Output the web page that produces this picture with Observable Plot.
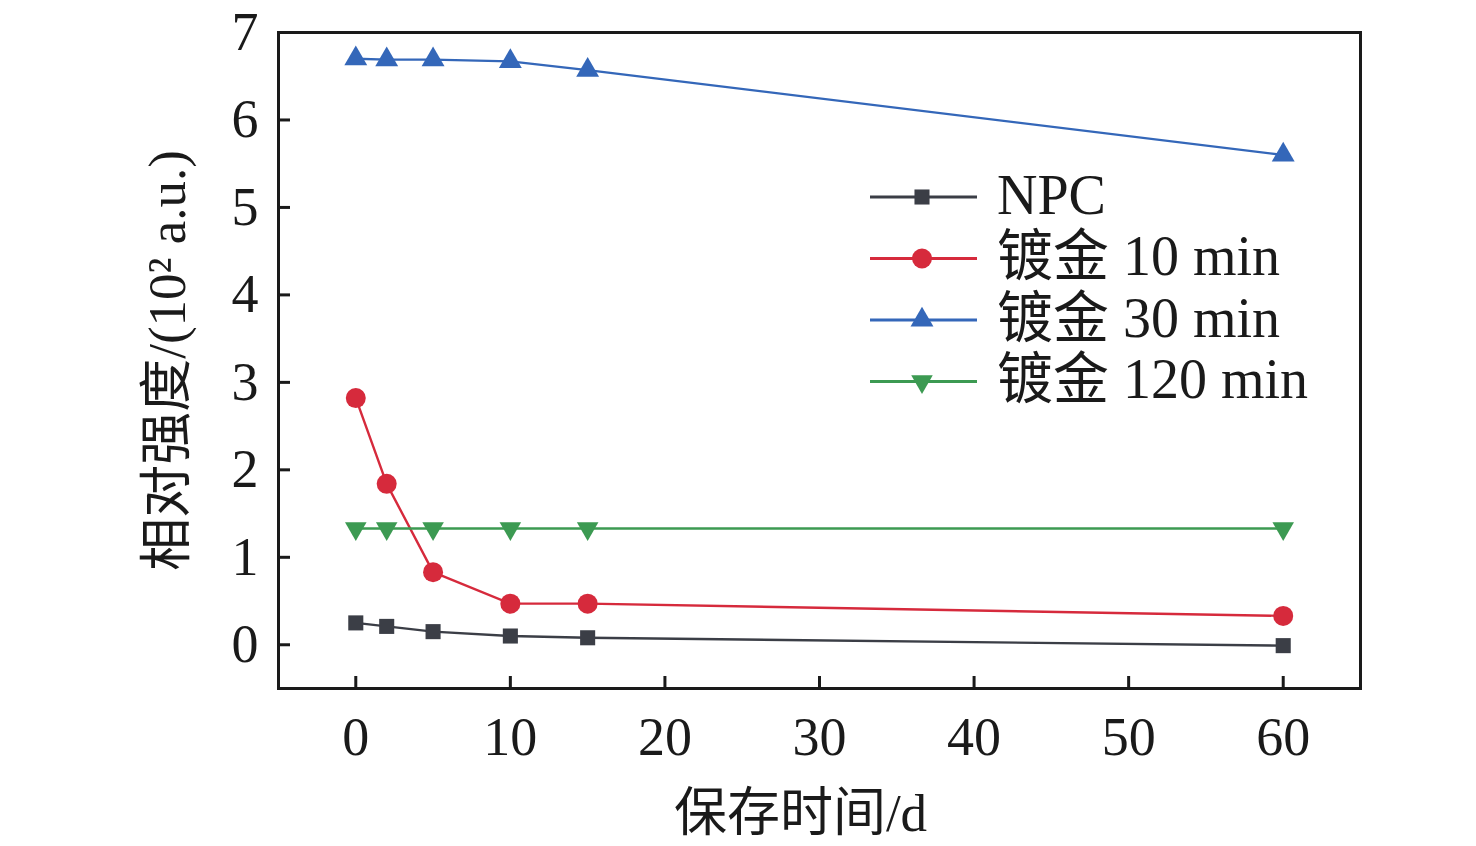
<!DOCTYPE html>
<html><head><meta charset="utf-8">
<script src="https://cdn.jsdelivr.net/npm/d3@7"></script>
<script src="https://cdn.jsdelivr.net/npm/@observablehq/plot@0.6"></script>
<style>
html,body{margin:0;padding:0;background:#fff;}
#wrap{position:relative;width:1476px;height:846px;}
#legend{position:absolute;left:0;top:0;}
</style></head>
<body><div id="wrap"></div>
<script>
const days = [0, 2, 5, 10, 15, 60];
const npc = [0.25, 0.21, 0.15, 0.10, 0.08, -0.01];
const gold10 = [2.82, 1.84, 0.83, 0.47, 0.47, 0.33];
const gold30 = [6.70, 6.69, 6.69, 6.67, 6.57, 5.60];
const gold120 = [1.33, 1.33, 1.33, 1.33, 1.33, 1.33];
const seriesNames = ["NPC", "镀金 10 min", "镀金 30 min", "镀金 120 min"];
const seriesColors = ["#3b3e46", "#d62a3c", "#3467b9", "#3c9a52"];
const seriesSymbols = ["square", "circle", "triangle", "triangle"];
const seriesRotate = [0, 0, 0, 180];
const seriesR = [8.5, 10, 8.5, 8];
const xTicks = [0, 10, 20, 30, 40, 50, 60];
const yTicks = [0, 1, 2, 3, 4, 5, 6, 7];

const allValues = [npc, gold10, gold30, gold120];
const rows = [];
allValues.forEach((vals, s) => vals.forEach((v, i) => rows.push({day: days[i], value: v, series: seriesNames[s], s})));

const font = "'Liberation Serif','Times New Roman','Noto Sans CJK SC',serif";
const marks = [Plot.frame({stroke: "#1a1a1a", strokeWidth: 3})];
seriesNames.forEach((name, s) => {
  const d = rows.filter(r => r.s === s);
  marks.push(Plot.line(d, {x: "day", y: "value", stroke: seriesColors[s], strokeWidth: 2.4}));
  marks.push(Plot.dot(d, {x: "day", y: "value", fill: seriesColors[s], stroke: "none", symbol: () => seriesSymbols[s], r: seriesR[s], rotate: seriesRotate[s]}));
});
marks.push(Plot.axisX({ticks: xTicks, tickSize: -12, tickPadding: 40, strokeWidth: 3, fontSize: 54, label: null}));
marks.push(Plot.axisY({ticks: yTicks, tickSize: -12, tickPadding: 32, strokeWidth: 3, fontSize: 54, label: null}));
marks.push(Plot.text(["保存时间/d"], {frameAnchor: "bottom", dy: 142, dx: -19, fontSize: 53, fill: "#1a1a1a", lineAnchor: "bottom", textAnchor: "middle"}));
marks.push(Plot.text(["相对强度/(10² a.u.)"], {frameAnchor: "left", dx: -110, dy: 0, rotate: -90, fontSize: 53, fill: "#1a1a1a", textAnchor: "middle"}));

const chart = Plot.plot({
  width: 1476, height: 846,
  marginLeft: 278, marginRight: 116, marginTop: 32, marginBottom: 158,
  style: {fontFamily: font, color: "#1a1a1a", background: "#fff", overflow: "visible"},
  x: {domain: [-5, 65]},
  y: {domain: [-0.5, 7]},
  marks
});
document.getElementById("wrap").appendChild(chart);

// legend
const leg = d3.select("#wrap").append("svg").attr("id", "legend").attr("width", 1476).attr("height", 846)
  .style("font-family", font);
const legX1 = 870, legX2 = 977, legMid = 922, legText = 997, legY0 = 197, legDy = 61.5;
seriesNames.forEach((name, s) => {
  const y = legY0 + s * legDy;
  leg.append("line").attr("x1", legX1).attr("x2", legX2).attr("y1", y).attr("y2", y)
    .attr("stroke", seriesColors[s]).attr("stroke-width", 3);
  const sym = d3.symbol(seriesSymbols[s] === "square" ? d3.symbolSquare : seriesSymbols[s] === "circle" ? d3.symbolCircle : d3.symbolTriangle, Math.PI * seriesR[s] * seriesR[s]);
  leg.append("path").attr("d", sym()).attr("fill", seriesColors[s])
    .attr("transform", `translate(${legMid},${y}) rotate(${seriesRotate[s]})`);
  leg.append("text").attr("x", legText).attr("y", y).attr("dy", "0.3em").attr("font-size", 56)
    .attr("fill", "#1a1a1a").text(name);
});
</script></body></html>
